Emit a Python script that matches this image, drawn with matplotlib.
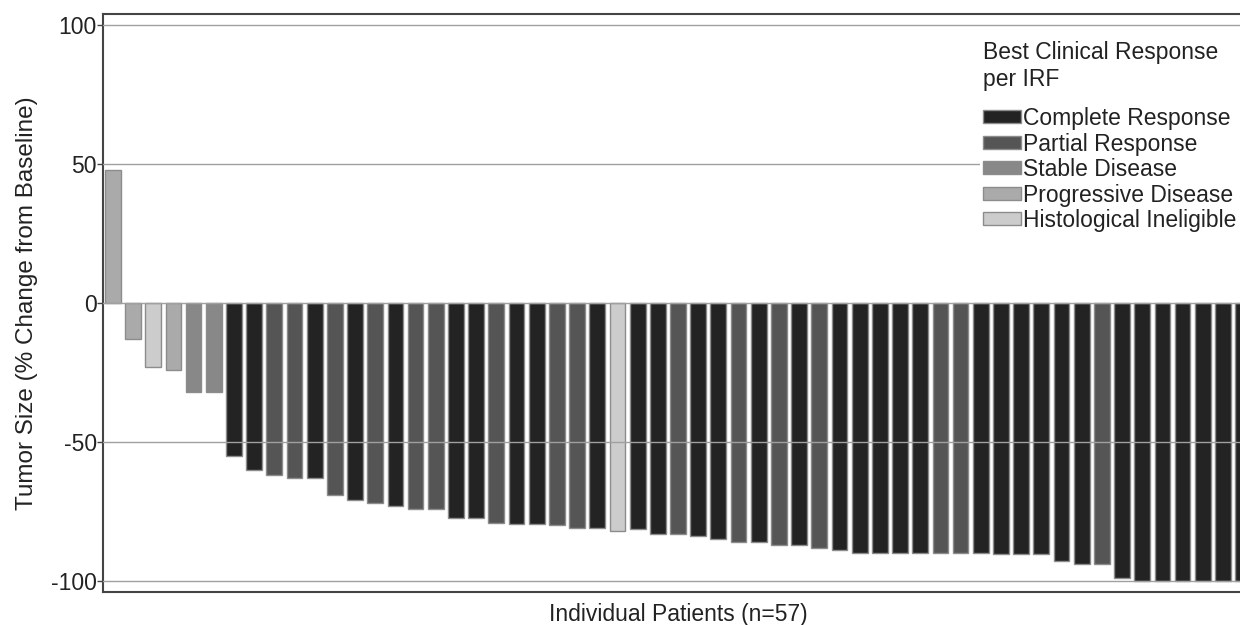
import matplotlib
matplotlib.use("Agg")
import matplotlib.pyplot as plt
from matplotlib.patches import Patch

# Best % change in tumor size per patient, sorted waterfall order
pct_change = [48, -13, -23, -24, -32, -32, -55, -60, -62, -63, -63, -69, -71, -72,
              -73, -74, -74, -77.5, -77.5, -79, -79.5, -79.5, -80, -81, -81, -82,
              -81.5, -83, -83, -84, -85, -86, -86, -87, -87, -88, -89, -90, -90,
              -90, -90, -90, -90, -90, -90.5, -90.5, -90.5, -93, -94, -94, -99,
              -100, -100, -100, -100, -100, -100]

# Best clinical response per IRF for each patient
response = ["PD", "PD", "HI", "PD", "SD", "SD", "CR", "CR", "PR", "PR", "CR", "PR",
            "CR", "PR", "CR", "PR", "PR", "CR", "CR", "PR", "CR", "CR", "PR", "PR",
            "CR", "HI", "CR", "CR", "PR", "CR", "CR", "PR", "CR", "PR", "CR", "PR",
            "CR", "CR", "CR", "CR", "CR", "PR", "PR", "CR", "CR", "CR", "CR", "CR",
            "CR", "PR", "CR", "CR", "CR", "CR", "CR", "CR", "CR"]

response_codes = ["CR", "PR", "SD", "PD", "HI"]
response_labels = ["Complete Response", "Partial Response", "Stable Disease",
                   "Progressive Disease", "Histological Ineligible"]
response_colors = ["#232323", "#555555", "#888888", "#aaaaaa", "#cccccc"]

y_ticks = [100, 50, 0, -50, -100]

plt.rcParams["font.family"] = ["Liberation Sans", "DejaVu Sans"]
text_color = "#222222"
fs = 16.5

fig = plt.figure(figsize=(12.4, 6.25), dpi=100)
ax = fig.add_axes([103 / 1240, 1 - 592 / 625, 1150 / 1240, 578 / 625])

x_all = list(range(len(pct_change)))
for code, color in zip(response_codes, response_colors):
    xs = [i for i in x_all if response[i] == code]
    ys = [pct_change[i] for i in xs]
    ax.bar(xs, ys, width=0.78, color=color, edgecolor="#8c8c8c",
           linewidth=1.0, zorder=2)

ax.set_xlim(-0.49, len(pct_change) - 0.51)
ax.set_ylim(-104, 104)
ax.set_yticks(y_ticks)
ax.set_yticklabels([str(t) for t in y_ticks])
ax.set_xticks([])

for yv in y_ticks:
    ax.axhline(yv, color="#a0a0a0", linewidth=1.0, zorder=3)

for side in ["left", "bottom", "top"]:
    ax.spines[side].set_color("#444444")
    ax.spines[side].set_linewidth(1.5)
ax.spines["right"].set_visible(False)

ax.tick_params(axis="y", length=4, width=1, color="#444444", pad=0.5,
               labelsize=fs, labelcolor=text_color)

ax.set_ylabel("Tumor Size (% Change from Baseline)", fontsize=17.5,
              color=text_color, labelpad=9)
ax.set_xlabel("Individual Patients (n=57)", fontsize=fs, color=text_color,
              labelpad=8)

handles = [Patch(facecolor=c, edgecolor="#8c8c8c", linewidth=1.0)
           for c in response_colors]
leg = ax.legend(handles, response_labels,
                title="Best Clinical Response\nper IRF",
                loc="upper right",
                bbox_to_anchor=((1240 - 103) / 1150, 1 - 24 / 578),
                fontsize=fs, title_fontsize=fs, frameon=True,
                handlelength=1.65, handleheight=0.5, handletextpad=0.1,
                labelspacing=0.11, borderpad=0.15, borderaxespad=0.0)
leg._legend_box.align = "left"
# extra gap between the title block and the entries (points)
leg._legend_box.sep = 11.5
leg.get_frame().set_facecolor("white")
leg.get_frame().set_edgecolor("none")
leg.get_frame().set_alpha(1.0)
leg.set_zorder(5)
for t in leg.get_texts():
    t.set_color(text_color)
leg.get_title().set_color(text_color)

fig.savefig("out.png", dpi=100, facecolor="white")
